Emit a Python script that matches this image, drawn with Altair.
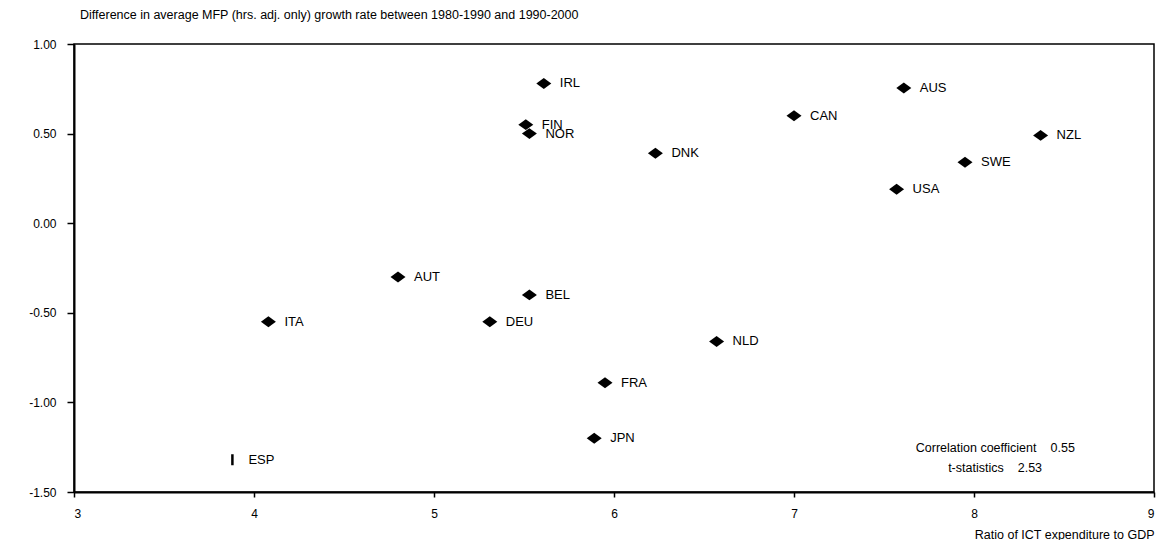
import altair as alt
import pandas as pd

# ---- data ----
countries = ["IRL", "FIN", "NOR", "AUS", "CAN", "NZL", "DNK", "SWE", "USA",
             "AUT", "BEL", "ITA", "DEU", "NLD", "FRA", "JPN", "ESP"]
ict_ratio = [5.61, 5.51, 5.53, 7.61, 7.00, 8.37, 6.23, 7.95, 7.57,
             4.80, 5.53, 4.08, 5.31, 6.57, 5.95, 5.89, 3.88]
mfp_diff = [0.78, 0.55, 0.50, 0.755, 0.60, 0.49, 0.39, 0.34, 0.19,
            -0.30, -0.40, -0.55, -0.55, -0.66, -0.89, -1.20, -1.32]

x_ticks = [3, 4, 5, 6, 7, 8, 9]
y_ticks = [-1.5, -1.0, -0.5, 0.0, 0.5, 1.0]

# statistics box (label right-aligned, value left-aligned)
stat_labels = ["Correlation coefficient", "t-statistics"]
stat_values = ["0.55", "2.53"]
stat_label_x = [8.347, 8.165]
stat_value_x = [8.425, 8.243]
stat_y = [-1.255, -1.365]

title_text = "Difference in average MFP (hrs. adj. only) growth rate between 1980-1990 and 1990-2000"
x_title = "Ratio of ICT expenditure to GDP"

df = pd.DataFrame({"country": countries, "ict": ict_ratio, "mfp": mfp_diff})
sdf = pd.DataFrame({"label": stat_labels, "value": stat_values,
                    "lx": stat_label_x, "vx": stat_value_x, "y": stat_y})

FONT = "Liberation Sans"

xscale = alt.Scale(domain=[3, 9], nice=False, zero=False)
yscale = alt.Scale(domain=[-1.5, 1.0], nice=False, zero=False)

xaxis = alt.Axis(values=x_ticks, format="d", grid=False, domainColor="black",
                 domainWidth=2, tickColor="black", tickWidth=1.5, tickSize=5,
                 labelFontSize=12, labelPadding=11, labelColor="black",
                 title=x_title, titleFontSize=12.5, titleFontWeight="normal",
                 titleColor="black", titleAlign="right", titleAnchor="end",
                 titleX=1080, titleY=46, titleBaseline="alphabetic")
yaxis = alt.Axis(values=y_ticks, format=".2f", grid=False, domainColor="black",
                 domainWidth=2, tickColor="black", tickWidth=1.5, tickSize=7,
                 labelFontSize=12, labelPadding=11, labelColor="black",
                 labelExpr="replace(datum.label, '\u2212', '-')", title=None)

X = alt.X("ict:Q", scale=xscale, axis=xaxis)
Y = alt.Y("mfp:Q", scale=yscale, axis=yaxis)

diamond = "M-1,0L0,-0.73L1,0L0,0.73Z"

base = alt.Chart(df)

pts = base.transform_filter(alt.datum.country != "ESP").mark_point(
    shape=diamond, filled=True, color="black", size=225, opacity=1, strokeWidth=0
).encode(x=X, y=Y)

esp = base.transform_filter(alt.datum.country == "ESP").mark_point(
    shape="M0,-1L0,1", filled=False, color="black", size=121, opacity=1,
    strokeWidth=2.5
).encode(x=X, y=Y)

labels = base.mark_text(
    align="left", baseline="middle", dx=16, fontSize=13, font=FONT, color="black"
).encode(x=X, y=Y, text="country:N")

sbase = alt.Chart(sdf)
stat_lab = sbase.mark_text(
    align="right", baseline="middle", fontSize=12.5, font=FONT, color="black"
).encode(
    x=alt.X("lx:Q", scale=xscale, axis=xaxis),
    y=alt.Y("y:Q", scale=yscale, axis=yaxis),
    text="label:N",
)
stat_val = sbase.mark_text(
    align="left", baseline="middle", fontSize=12.5, font=FONT, color="black"
).encode(
    x=alt.X("vx:Q", scale=xscale, axis=xaxis),
    y=alt.Y("y:Q", scale=yscale, axis=yaxis),
    text="value:N",
)

chart = alt.layer(pts, esp, labels, stat_lab, stat_val).properties(
    width=1080,
    height=448,
    autosize=alt.AutoSizeParams(type="none"),
    padding={"left": 66, "top": 36, "right": 4, "bottom": 48},
    title=alt.TitleParams(text=title_text, anchor="start", frame="group",
                          fontSize=12.5, fontWeight="normal", font=FONT,
                          color="black", offset=17, dx=6),
).configure(
    font=FONT,
).configure_view(
    stroke="black", strokeWidth=1.5
).configure_axis(
    labelFont=FONT, titleFont=FONT
)

chart.save("out.html", embed_options={"renderer": "svg", "actions": False})
